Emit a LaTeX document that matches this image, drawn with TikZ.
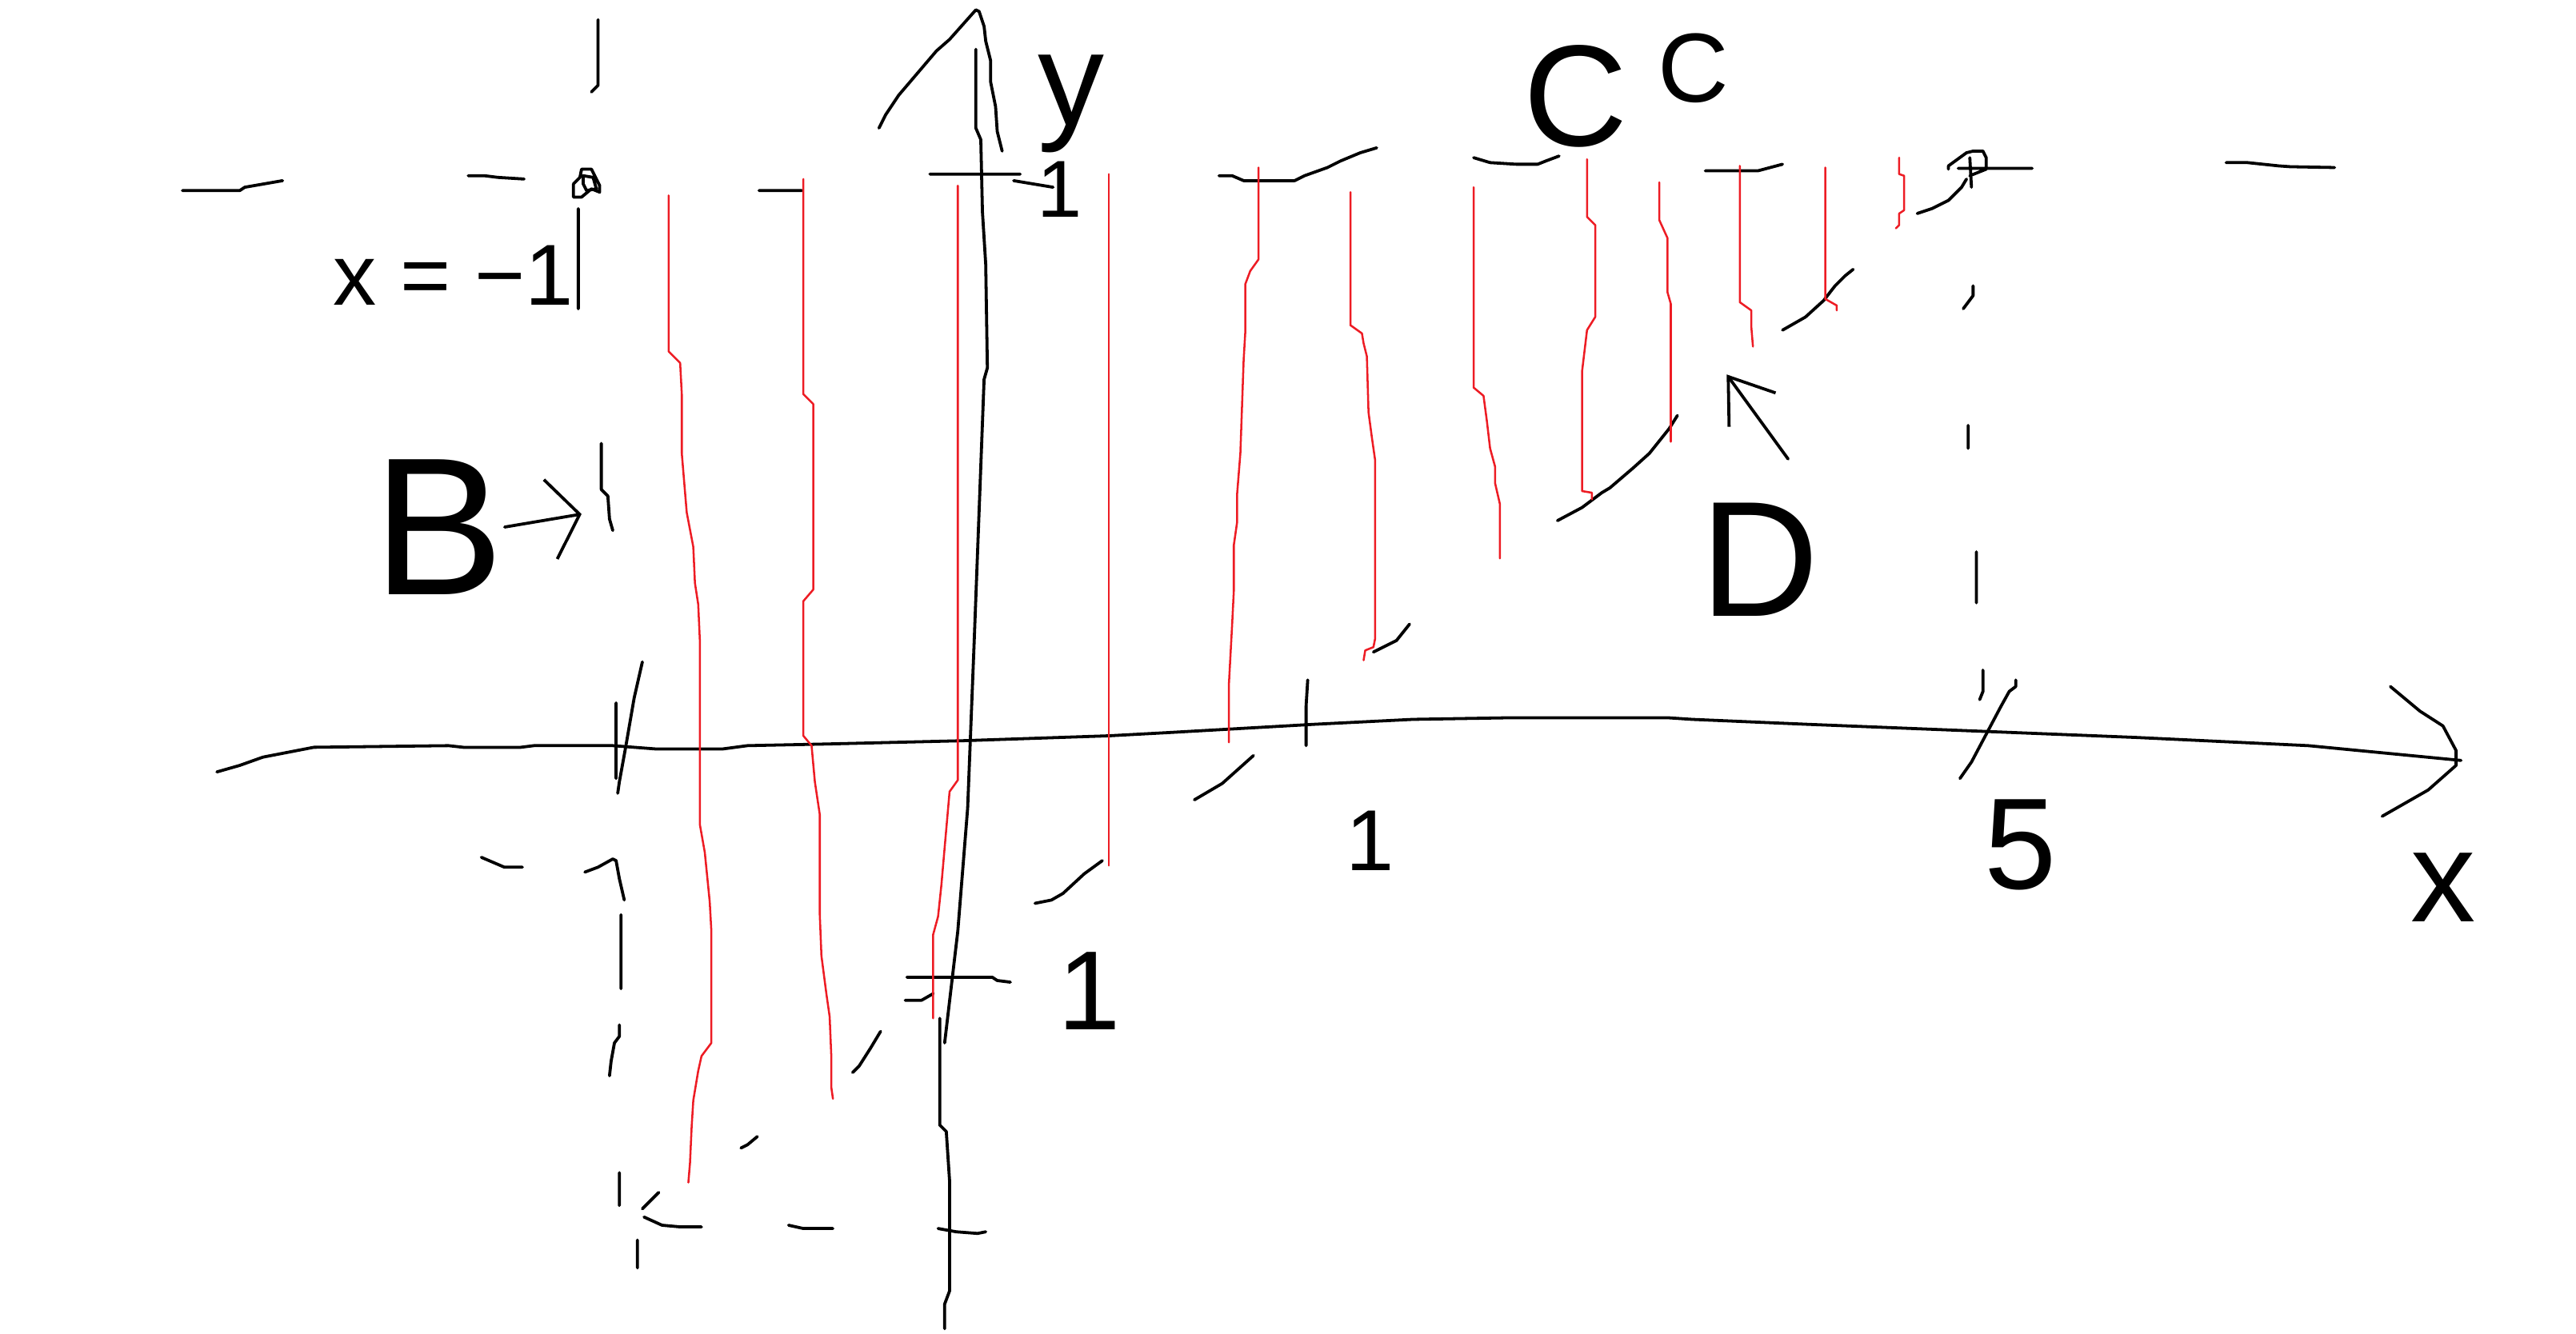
\documentclass[tikz,border=0pt]{standalone}
\usepackage{fontspec}
\setmainfont{Liberation Sans}
\usetikzlibrary{arrows.meta}
\definecolor{rojoPaint}{HTML}{ED1C24}
\colorlet{colTrazo}{black}
\tikzset{
  trazo/.style={draw=colTrazo, line width=1.05pt, line cap=round, line join=round},
  trazoRojo/.style={draw=rojoPaint, line width=0.7pt, line cap=round, line join=round},
  etiqueta/.style={inner sep=0pt, anchor=base, text=colTrazo},
  flecha/.style={trazo, -{Straight Barb[length=3.6mm, width=9.8mm]}},
  flechaCorta/.style={trazo, -{Straight Barb[length=5mm, width=7mm]}},
}
\begin{document}
\begin{tikzpicture}[x=0.02cm, y=-0.02cm]
  \useasboundingbox (0,0) rectangle (1568,812);
  % eje x
  \draw[trazo] (132,470) -- (146,466) -- (160,461) -- (191,455) -- (273,454) -- (282,455)
    -- (317,455) -- (325,454) -- (373,454) -- (399,456) -- (440,456) -- (455,454)
    -- (503,453) -- (586,451) -- (675,448) -- (712,446) -- (800,441) -- (860,438)
    -- (920,437) -- (1015,437) -- (1030,438) -- (1100,441) -- (1200,445) -- (1300,449)
    -- (1405,454) -- (1498,463);
  \draw[trazo] (1455,418) -- (1473,433) -- (1487,442) -- (1495,457) -- (1495,466)
    -- (1478,481) -- (1450,497);
  % eje y
  \draw[trazo] (594,30) -- (594,78) -- (597,85) -- (598,129) -- (600,161) -- (601,224)
    -- (599,231) -- (593,390) -- (589,492) -- (583,567) -- (575,635);
  \draw[trazo] (572,620) -- (572,685) -- (576,689) -- (578,719) -- (578,786) -- (575,794)
    -- (575,809);
  \draw[trazo] (535,78) -- (539,70) -- (547,58) -- (570,31) -- (578,24) -- (594,6)
    -- (596,7) -- (599,16) -- (600,25) -- (603,37) -- (603,50) -- (606,65) -- (607,80)
    -- (610,92);
  % marcas
  \draw[trazo] (566,106) -- (621,106) (617,110) -- (641,114);
  \draw[trazo] (552,595) -- (604,595) -- (607,597) -- (615,598);
  \draw[trazo] (796,414) -- (795,430) -- (795,454);
  % recta x = -1
  \draw[trazo] (364,12) -- (364,52) -- (360,56)
    (352,127) -- (352,188)
    (366,270) -- (366,298) -- (370,302) -- (371,316) -- (373,323)
    (375,428) -- (375,474)
    (391,403) -- (386,425) -- (381,454) -- (377,476) -- (376,483)
    (356,531) -- (364,528) -- (373,523) -- (375,524) -- (377,535) -- (380,548)
    (378,557) -- (378,602)
    (377,624) -- (377,631) -- (374,635) -- (372,646) -- (371,655)
    (377,714) -- (377,734)
    (388,755) -- (388,772)
    (293,522) -- (307,528) -- (318,528);
  % recta y = 1
  \draw[trazo] (111,116) -- (146,116) -- (149,114) -- (172,110)
    (285,107) -- (295,107) -- (303,108) -- (319,109)
    (462,116) -- (488,116)
    (742,107) -- (750,107) -- (757,110) -- (788,110) -- (794,107) -- (808,102)
    -- (816,98) -- (828,93) -- (838,90)
    (897,96) -- (907,99) -- (923,100) -- (936,100) -- (941,98) -- (949,95)
    (1038,104) -- (1070,104) -- (1085,100)
    (1355,99) -- (1368,99) -- (1387,101) -- (1394,101.5) -- (1421,102);
  % puntos
  \draw[trazo] (349,112) -- (349,120) -- (354,120) -- (360,115) -- (365,117) -- (365,113)
    -- (360,103) -- (354,103) -- (353,108) -- (349,112)
    (355,107) -- (361,108) -- (363,115) -- (357,116) -- (355,112) -- cycle;
  \draw[trazo] (1186,103) -- (1186,101) -- (1197,93) -- (1201,92) -- (1207,92) -- (1209,96)
    -- (1209,103) -- (1204,105) -- (1199,107)
    (1192,102.5) -- (1237,102.5) (1199,96) -- (1200,114);
  % recta x = 5
  \draw[trazo] (1195,188) -- (1201,180) -- (1201,174)
    (1198,259) -- (1198,273)
    (1203,336) -- (1203,367)
    (1205,426) -- (1207,421) -- (1207,408)
    (1227,414) -- (1227,418) -- (1223,421) -- (1218,430) -- (1209,447) -- (1200,464)
    -- (1193,474);
  % curva
  \draw[trazo] (391,736) -- (401,726)
    (392,741) -- (403,746) -- (414,747) -- (427,747)
    (480,746) -- (489,748) -- (507,748)
    (571,748) -- (582,750) -- (595,751) -- (600,750)
    (451,699) -- (455,697) -- (461,692)
    (519,653) -- (523,649) -- (530,638) -- (536,628)
    (551,609) -- (561,609) -- (568,605)
    (630,550) -- (640,548) -- (647,544) -- (660,532) -- (671,524)
    (727,487) -- (744,477) -- (763,460)
    (836,397) -- (850,390) -- (858,380)
    (948,317) -- (963,309) -- (975,300) -- (980,297) -- (994,285) -- (1004,276)
    -- (1016,261) -- (1021,253)
    (1085,201) -- (1099,193) -- (1110,183) -- (1117,174) -- (1123,168) -- (1128,164)
    (1167,130) -- (1176,127) -- (1186,122) -- (1194,114) -- (1197,109);
  % rayado
  \draw[trazoRojo] (407,119) -- (407,214) -- (414,221) -- (415,240) -- (415,276) -- (418,312)
    -- (422,333) -- (423,355) -- (425,368) -- (426,390) -- (426,502) -- (429,519)
    -- (432,549) -- (433,567) -- (433,635) -- (427,643) -- (425,652) -- (422,670)
    -- (421,686) -- (420,708) -- (419,720);
  \draw[trazoRojo] (489,109) -- (489,240) -- (495,246) -- (495,359) -- (489,366) -- (489,448)
    -- (494,454) -- (496,476) -- (499,496) -- (499,557) -- (500,582) -- (503,605)
    -- (505,619) -- (506,643) -- (506,662) -- (507,669);
  \draw[trazoRojo] (583,113) -- (583,475) -- (578,482) -- (575,516) -- (573,539) -- (571,558)
    -- (568,569) -- (568,620);
  \draw[trazoRojo] (675,106) -- (675,527);
  \draw[trazoRojo] (766,102) -- (766,158) -- (761,165) -- (758,173) -- (758,202) -- (757,219)
    -- (755,276) -- (753,301) -- (753,318) -- (751,332) -- (751,360) -- (750,380)
    -- (748,417) -- (748,452);
  \draw[trazoRojo] (822,117) -- (822,198) -- (829,203) -- (830,209) -- (832,217) -- (833,251)
    -- (835,266) -- (837,280) -- (837,389) -- (836,394) -- (831,396) -- (830,402);
  \draw[trazoRojo] (897,114) -- (897,236) -- (903,241) -- (905,256) -- (907,273) -- (910,284)
    -- (910,294) -- (913,307) -- (913,340);
  \draw[trazoRojo] (966,97) -- (966,132) -- (971,137) -- (971,193) -- (966,201) -- (963,226)
    -- (963,299) -- (969,300) -- (969,304);
  \draw[trazoRojo] (1010,111) -- (1010,134) -- (1015,145) -- (1015,178) -- (1017,185)
    -- (1017,269);
  \draw[trazoRojo] (1059,101) -- (1059,184) -- (1066,189) -- (1066,199) -- (1067,211);
  \draw[trazoRojo] (1111,102) -- (1111,182) -- (1118,186) -- (1118,189);
  \draw[trazoRojo] (1156,96) -- (1156,106) -- (1159,107) -- (1159,128) -- (1156,130)
    -- (1156,137) -- (1154,139);
  % etiquetas
  \node[etiqueta, font=\fontsize{30}{34}\selectfont] (xIgual) at (276,186) {x = −1};
  \node[etiqueta, font=\fontsize{68}{78}\selectfont] (letraB) at (267,362) {B};
  \node[etiqueta, font=\fontsize{46}{52}\selectfont] (letraY) at (652,76) {y};
  \node[etiqueta, font=\fontsize{28}{32}\selectfont] (unoY) at (645,132) {1};
  \node[etiqueta, font=\fontsize{50}{56}\selectfont] (letraC1) at (959,89) {C};
  \node[etiqueta, font=\fontsize{34}{38}\selectfont] (letraC2) at (1031,62) {C};
  \node[etiqueta, font=\fontsize{57}{64}\selectfont] (letraD) at (1071,375) {D};
  \node[etiqueta, font=\fontsize{30}{34}\selectfont] (unoX) at (834,530) {1};
  \node[etiqueta, font=\fontsize{39}{44}\selectfont] (menosUno) at (663,627) {1};
  \node[etiqueta, font=\fontsize{45}{50}\selectfont] (cinco) at (1230,541) {5};
  \node[etiqueta, font=\fontsize{45}{50}\selectfont] (letraX) at (1487,561) {x};
  % flechas
  \coordinate (puntaB) at (354,313);
  \coordinate (puntaD) at (1051,228);
  \draw[flecha] (letraB.east) -- (puntaB);
  \draw[flechaCorta, shorten <=0.65cm] (letraD.north east) -- (puntaD);
\end{tikzpicture}
\end{document}
